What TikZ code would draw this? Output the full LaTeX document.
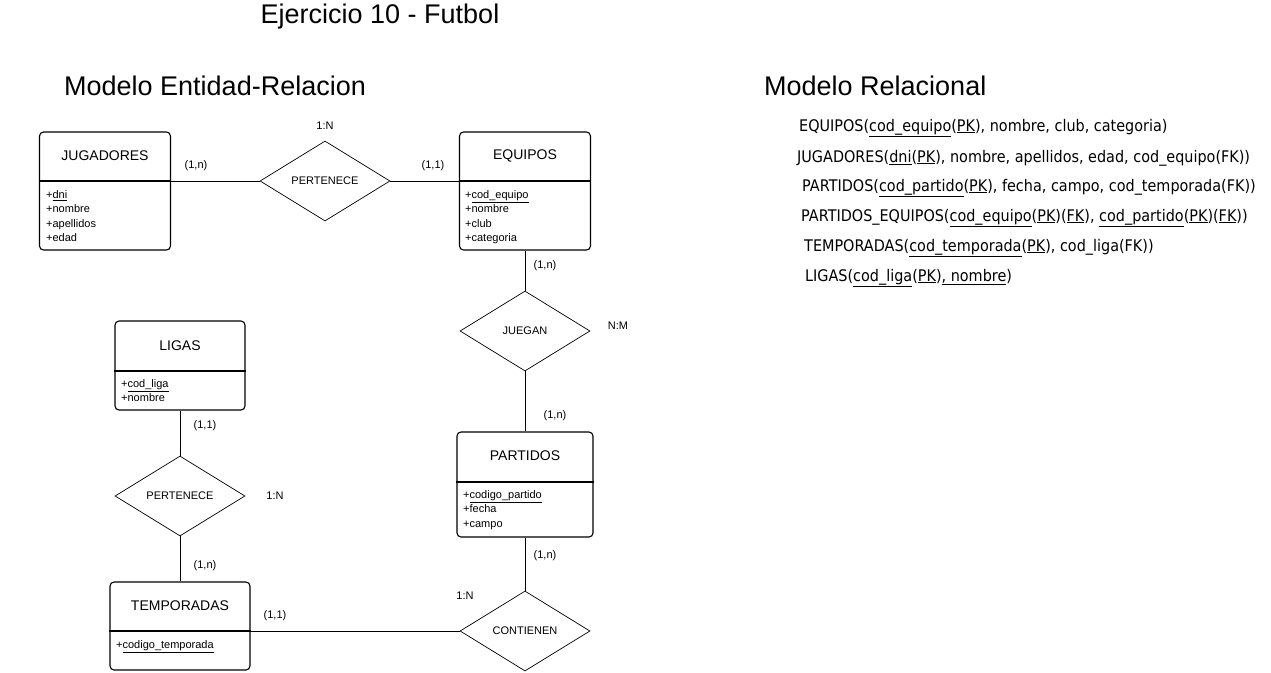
\documentclass[tikz,border=0pt]{standalone}
\usepackage{fontspec}
\setmainfont{Liberation Sans}
\newfontfamily\relfont[FakeStretch=0.9]{DejaVu Sans}
\usetikzlibrary{shapes.geometric}
\begin{document}
\begin{tikzpicture}[x=1pt,y=-1pt,
  ent/.style={draw, rounded corners=4pt, line width=1.1pt, inner sep=0pt},
  rel/.style={draw, diamond, aspect=1.625, minimum width=130pt, minimum height=80pt, inner sep=0pt, line width=0.7pt, font=\fontsize{11}{13}\selectfont},
  ename/.style={font=\fontsize{14}{16}\selectfont, inner sep=0pt},
  attrs/.style={anchor=north west, align=left, inner sep=0pt, font=\fontsize{11}{14.3}\selectfont},
  card/.style={font=\fontsize{11}{13}\selectfont, inner sep=0pt},
  conn/.style={line width=0.7pt},
  heading/.style={font=\fontsize{27}{31}\selectfont, inner sep=0pt},
  rtext/.style={anchor=west, inner sep=0pt, font=\relfont\fontsize{16}{19}\selectfont}]
\useasboundingbox (0,0) rectangle (1271,672);

% titles
\node[heading] (title) at (380,17) {Ejercicio 10 - Futbol};
\node[heading, anchor=west] (hER) at (64,86) {Modelo Entidad-Relacion};
\node[heading, anchor=west] (hRel) at (764,86) {Modelo Relacional};

% entities
\node[ent, minimum width=131pt, minimum height=118pt] (jug) at (105,191) {};
\draw[line width=1.1pt] (jug.west |- 0,181) -- (jug.east |- 0,181);
\node[ename] (jugN) at (105,156) {JUGADORES};
\node[attrs] (jugA) at (46,190.5) {+\underline{dni}\\+nombre\\+apellidos\\+edad};

\node[ent, minimum width=131pt, minimum height=118pt] (equ) at (525,191) {};
\draw[line width=1.1pt] (equ.west |- 0,181) -- (equ.east |- 0,181);
\node[ename] (equN) at (525,156) {EQUIPOS};
\node[attrs] (equA) at (465,190.5) {+\underline{cod\_equipo}\\+nombre\\+club\\+categoria};

\node[ent, minimum width=130pt, minimum height=89pt] (lig) at (180,365.5) {};
\draw[line width=1.1pt] (lig.west |- 0,371) -- (lig.east |- 0,371);
\node[ename] (ligN) at (180,346) {LIGAS};
\node[attrs] (ligA) at (121,379.5) {+\underline{cod\_liga}\\+nombre};

\node[ent, minimum width=136pt, minimum height=105pt] (par) at (525,484.5) {};
\draw[line width=1.1pt] (par.west |- 0,482) -- (par.east |- 0,482);
\node[ename] (parN) at (525,456) {PARTIDOS};
\node[attrs] (parA) at (463,490.5) {+\underline{codigo\_partido}\\+fecha\\+campo};

\node[ent, minimum width=140pt, minimum height=88pt] (tem) at (180,626) {};
\draw[line width=1.1pt] (tem.west |- 0,631) -- (tem.east |- 0,631);
\node[ename] (temN) at (180,606) {TEMPORADAS};
\node[attrs] (temA) at (116,640.5) {+\underline{codigo\_temporada}};

% relationships
\node[rel] (per1) at (325,181) {PERTENECE};
\node[rel] (jue) at (525,331) {JUEGAN};
\node[rel] (per2) at (180,496) {PERTENECE};
\node[rel] (con) at (525,631) {CONTIENEN};

% connectors
\draw[conn] (per1.west -| jug.east) -- (per1.west);
\draw[conn] (per1.east) -- (per1.east -| equ.west);
\draw[conn] (equ.south) -- (jue.north);
\draw[conn] (jue.south) -- (par.north);
\draw[conn] (par.south) -- (con.north);
\draw[conn] (con.west) -- (con.west -| tem.east);
\draw[conn] (lig.south) -- (per2.north);
\draw[conn] (per2.south) -- (tem.north);

% cardinalities
\node[card] (c1) at (196,166) {(1,n)};
\node[card] (c2) at (433,166) {(1,1)};
\node[card] (c3) at (325,126) {1:N};
\node[card] (c4) at (545,266) {(1,n)};
\node[card] (c5) at (618,326) {N:M};
\node[card] (c6) at (555,416) {(1,n)};
\node[card] (c7) at (545,556) {(1,n)};
\node[card] (c8) at (465,596) {1:N};
\node[card] (c9) at (275,616) {(1,1)};
\node[card] (c10) at (205,426) {(1,1)};
\node[card] (c11) at (275,496) {1:N};
\node[card] (c12) at (205,566) {(1,n)};

% relational model
\node[rtext] (r1) at (799,128) {EQUIPOS(\underline{cod\_equipo}(\underline{PK}), nombre, club, categoria)};
\node[rtext] (r2) at (797,158) {JUGADORES(\underline{dni}(\underline{PK}), nombre, apellidos, edad, cod\_equipo(FK))};
\node[rtext] (r3) at (802,188) {PARTIDOS(\underline{cod\_partido}(\underline{PK}), fecha, campo, cod\_temporada(FK))};
\node[rtext] (r4) at (801,218) {PARTIDOS\_EQUIPOS(\underline{cod\_equipo}(\underline{PK})(\underline{FK}), \underline{cod\_partido}(\underline{PK})(\underline{FK}))};
\node[rtext] (r5) at (804,248) {TEMPORADAS(\underline{cod\_temporada}(\underline{PK}), cod\_liga(FK))};
\node[rtext] (r6) at (805,278) {LIGAS(\underline{cod\_liga}(\underline{PK})\underline{, nombre})};
\end{tikzpicture}
\end{document}
